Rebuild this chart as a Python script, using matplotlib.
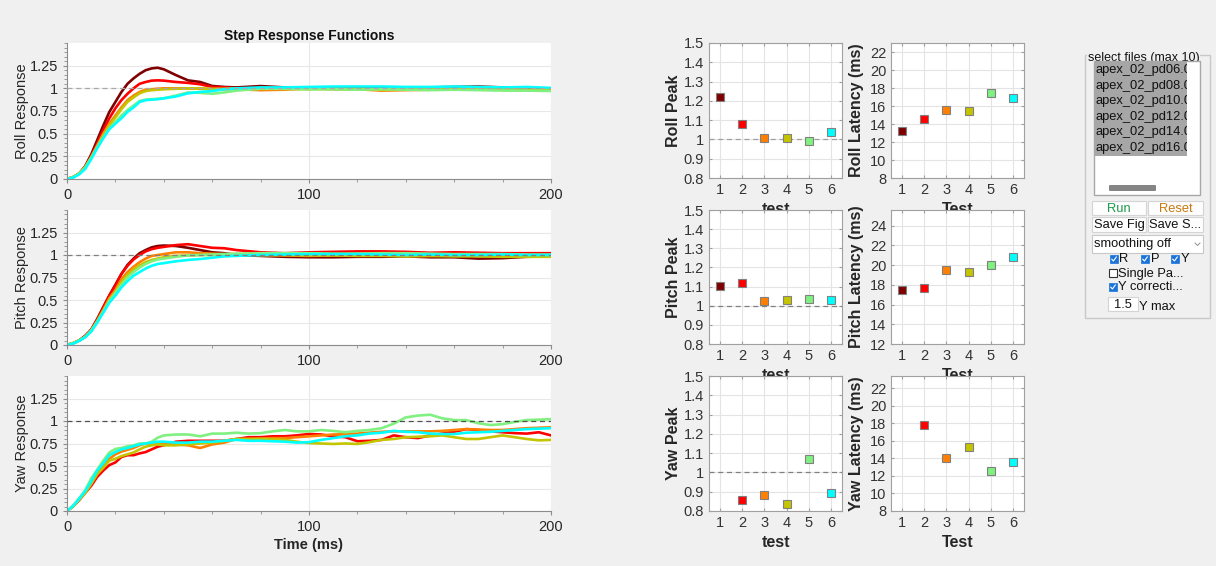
import numpy as np
import matplotlib
matplotlib.use("Agg")
import matplotlib.pyplot as plt
import matplotlib.patches as patches

plt.rcParams['font.family'] = ['Liberation Sans', 'DejaVu Sans']

W, H = 1216, 566

# ---- data ----
tests = [1, 2, 3, 4, 5, 6]
colors = ['#7f0000', '#ff0000', '#ff8000', '#c4c400', '#80f080', '#00ffff']

t_rp = [0, 2.5, 5, 7.5, 10, 12.5, 15, 17.5, 20, 22.5, 25, 27.5, 30, 32.5, 35, 37.5, 40,
        45, 50, 55, 60, 65, 70,
        80, 90, 100, 110, 120, 130, 140, 150, 160, 170, 180, 190, 200]
t_yaw = [0, 2.5, 5, 7.5, 10, 12.5, 15, 17.5, 20, 22.5, 25, 27.5, 30, 32.5, 35, 37.5, 40,
         45, 50, 55, 60, 65, 70, 75, 80, 85, 90, 95, 100, 105, 110, 115, 120,
         125, 130, 135, 140, 145, 150, 155, 160, 165, 170, 175, 180, 185, 190, 195, 200]

roll_resp = [
    [0, 0.02, 0.06, 0.14, 0.27, 0.43, 0.59, 0.74, 0.85, 0.96, 1.05, 1.11, 1.16, 1.20, 1.22, 1.227, 1.21,
     1.146, 1.088, 1.07, 1.026, 1.015, 1.01,
     1.025, 1.01, 1.0, 1.005, 1.01, 1.005, 1.0, 1.01, 1.015, 1.02, 1.01, 1.005, 0.99],
    [0, 0.02, 0.06, 0.13, 0.25, 0.39, 0.54, 0.67, 0.78, 0.87, 0.94, 1.0, 1.05, 1.07, 1.085, 1.088, 1.085,
     1.07, 1.06, 1.045, 1.015, 1.01, 1.0,
     1.0, 1.0, 0.995, 1.0, 1.005, 1.0, 0.995, 1.0, 1.0, 1.005, 1.0, 0.99, 0.985],
    [0, 0.02, 0.06, 0.13, 0.24, 0.37, 0.50, 0.61, 0.70, 0.79, 0.87, 0.92, 0.96, 0.985, 0.99, 0.996, 1.0,
     1.0, 1.0, 0.995, 0.99, 0.99, 0.99,
     0.98, 0.985, 1.0, 0.99, 0.99, 0.975, 0.98, 0.985, 0.99, 0.99, 0.985, 0.98, 0.975],
    [0, 0.02, 0.06, 0.13, 0.24, 0.36, 0.48, 0.59, 0.68, 0.77, 0.85, 0.90, 0.945, 0.97, 0.98, 0.985, 0.99,
     0.995, 1.0, 1.0, 0.995, 0.995, 1.0,
     1.0, 0.995, 0.99, 0.995, 0.99, 0.985, 0.99, 0.99, 0.985, 0.99, 0.99, 0.985, 0.98],
    [0, 0.02, 0.06, 0.12, 0.23, 0.35, 0.46, 0.56, 0.63, 0.70, 0.76, 0.81, 0.86, 0.875, 0.88, 0.885, 0.89,
     0.92, 0.955, 0.95, 0.94, 0.955, 0.975,
     0.995, 0.995, 0.99, 0.99, 0.985, 0.99, 0.985, 0.98, 0.985, 0.98, 0.975, 0.975, 0.97],
    [0, 0.015, 0.05, 0.11, 0.22, 0.34, 0.45, 0.55, 0.61, 0.67, 0.74, 0.79, 0.85, 0.87, 0.875, 0.88, 0.89,
     0.91, 0.945, 0.96, 0.97, 0.99, 1.0,
     1.01, 1.01, 1.015, 1.02, 1.02, 1.02, 1.015, 1.015, 1.02, 1.015, 1.01, 1.015, 1.005],
]

pitch_resp = [
    [0, 0.02, 0.05, 0.10, 0.17, 0.29, 0.42, 0.55, 0.67, 0.79, 0.89, 0.96, 1.02, 1.055, 1.085, 1.10, 1.105,
     1.10, 1.08, 1.055, 1.03, 1.02, 1.0,
     0.99, 0.98, 0.975, 0.975, 0.98, 0.98, 0.985, 0.975, 0.975, 0.96, 0.965, 0.98, 0.985],
    [0, 0.02, 0.05, 0.10, 0.17, 0.28, 0.42, 0.55, 0.66, 0.79, 0.88, 0.95, 1.0, 1.04, 1.065, 1.08, 1.09,
     1.11, 1.12, 1.10, 1.08, 1.075, 1.055,
     1.03, 1.02, 1.03, 1.035, 1.04, 1.04, 1.035, 1.025, 1.03, 1.025, 1.02, 1.02, 1.02],
    [0, 0.02, 0.05, 0.09, 0.16, 0.27, 0.39, 0.52, 0.61, 0.73, 0.81, 0.87, 0.92, 0.96, 0.99, 1.0, 1.01,
     1.03, 1.03, 1.02, 1.015, 1.01, 1.01,
     1.0, 0.995, 0.99, 0.995, 1.0, 0.995, 0.99, 0.99, 0.995, 0.99, 0.99, 0.985, 0.99],
    [0, 0.02, 0.05, 0.09, 0.16, 0.26, 0.38, 0.50, 0.59, 0.70, 0.78, 0.84, 0.885, 0.92, 0.945, 0.96, 0.975,
     0.99, 0.995, 1.0, 1.0, 1.005, 1.005,
     1.0, 1.0, 0.995, 0.995, 0.99, 0.99, 0.985, 0.99, 0.985, 0.985, 0.98, 0.98, 0.98],
    [0, 0.02, 0.05, 0.09, 0.16, 0.26, 0.37, 0.49, 0.58, 0.67, 0.75, 0.81, 0.86, 0.90, 0.93, 0.95, 0.96,
     0.98, 0.995, 1.0, 1.005, 1.01, 1.015,
     1.02, 1.02, 1.02, 1.015, 1.015, 1.02, 1.02, 1.015, 1.01, 1.01, 1.01, 1.005, 1.005],
    [0, 0.015, 0.045, 0.085, 0.15, 0.25, 0.36, 0.47, 0.55, 0.64, 0.71, 0.77, 0.81, 0.85, 0.88, 0.90, 0.91,
     0.93, 0.945, 0.955, 0.97, 0.985, 0.99,
     1.0, 1.005, 1.01, 1.01, 1.01, 1.005, 1.0, 1.005, 1.0, 1.0, 1.005, 1.0, 1.0],
]

# test 1 has no yaw data
yaw_resp = [
    None,
    [0, 0.05, 0.12, 0.20, 0.28, 0.38, 0.45, 0.51, 0.54, 0.60, 0.62, 0.62, 0.64, 0.655, 0.685, 0.715, 0.73,
     0.77, 0.78, 0.78, 0.78, 0.78, 0.80, 0.82, 0.82, 0.83, 0.83, 0.84, 0.856, 0.85, 0.83, 0.82, 0.775,
     0.78, 0.79, 0.84, 0.82, 0.81, 0.84, 0.86, 0.88, 0.91, 0.90, 0.885, 0.875, 0.865, 0.86, 0.875, 0.84],
    [0, 0.055, 0.13, 0.21, 0.32, 0.43, 0.51, 0.58, 0.63, 0.66, 0.68, 0.70, 0.73, 0.75, 0.745, 0.76, 0.75,
     0.74, 0.73, 0.70, 0.74, 0.76, 0.80, 0.80, 0.805, 0.81, 0.81, 0.82, 0.83, 0.84, 0.85, 0.855, 0.86,
     0.87, 0.88, 0.885, 0.885, 0.885, 0.885, 0.89, 0.90, 0.91, 0.905, 0.90, 0.90, 0.91, 0.92, 0.925, 0.93],
    [0, 0.05, 0.125, 0.20, 0.30, 0.41, 0.48, 0.56, 0.58, 0.61, 0.63, 0.65, 0.685, 0.715, 0.73, 0.74, 0.73,
     0.73, 0.74, 0.75, 0.76, 0.78, 0.80, 0.80, 0.80, 0.795, 0.79, 0.77, 0.755, 0.75, 0.745, 0.75, 0.745,
     0.765, 0.79, 0.80, 0.82, 0.825, 0.83, 0.84, 0.82, 0.80, 0.80, 0.82, 0.84, 0.82, 0.80, 0.785, 0.79],
    [0, 0.06, 0.14, 0.23, 0.36, 0.46, 0.56, 0.65, 0.69, 0.70, 0.72, 0.73, 0.75, 0.75, 0.77, 0.815, 0.84,
     0.85, 0.85, 0.83, 0.86, 0.86, 0.87, 0.86, 0.865, 0.885, 0.90, 0.885, 0.885, 0.90, 0.89, 0.875, 0.89,
     0.90, 0.92, 0.97, 1.04, 1.06, 1.07, 1.03, 1.01, 1.01, 0.975, 0.955, 0.965, 0.99, 1.01, 1.015, 1.02],
    [0, 0.055, 0.135, 0.22, 0.33, 0.45, 0.53, 0.62, 0.655, 0.685, 0.70, 0.72, 0.74, 0.75, 0.76, 0.77, 0.77,
     0.76, 0.76, 0.77, 0.77, 0.78, 0.79, 0.78, 0.78, 0.775, 0.77, 0.76, 0.765, 0.79, 0.81, 0.83, 0.84,
     0.86, 0.87, 0.89, 0.88, 0.875, 0.86, 0.855, 0.855, 0.87, 0.875, 0.88, 0.89, 0.90, 0.91, 0.915, 0.92],
]

roll_peak = [1.22, 1.08, 1.005, 1.01, 0.99, 1.04]
pitch_peak = [1.105, 1.12, 1.025, 1.03, 1.035, 1.03]
yaw_peak = [np.nan, 0.855, 0.885, 0.835, 1.07, 0.895]
roll_lat = [13.2, 14.6, 15.6, 15.5, 17.5, 16.9]
pitch_lat = [17.5, 17.7, 19.5, 19.3, 20.0, 20.8]
yaw_lat = [np.nan, 17.8, 14.1, 15.3, 12.6, 13.6]

file_names = ['apex_02_pd06.0', 'apex_02_pd08.0', 'apex_02_pd10.0',
              'apex_02_pd12.0', 'apex_02_pd14.0', 'apex_02_pd16.0']

TXT = '#262626'


def px_rect(l, t, r, b):
    return [l / W, 1 - b / H, (r - l) / W, (b - t) / H]


fig = plt.figure(figsize=(W / 100, H / 100), dpi=100, facecolor='#f0f0f0')

# ---- step response panels ----
rows = [(43, 179), (210, 345), (376, 511)]
step_labels = ['Roll Response', 'Pitch Response', 'Yaw Response']
dash_cols = ['#a8a8a8', '#808080', '#505050']
step_data = [(t_rp, roll_resp), (t_rp, pitch_resp), (t_yaw, yaw_resp)]

for i, (top, bot) in enumerate(rows):
    ax = fig.add_axes(px_rect(67, top, 551, bot))
    t, curves = step_data[i]
    for c, y in zip(colors, curves):
        if y is None:
            continue
        ax.plot(t, y, color=c, lw=1.9, solid_joinstyle='round')
    ax.axhline(1, ls='--', color=dash_cols[i], lw=0.9, dashes=(4, 3), zorder=3)
    ax.set_xlim(0, 200)
    ax.set_ylim(0, 1.5)
    ax.set_xticks([0, 100, 200])
    ax.set_xticks(np.arange(0, 201, 20), minor=True)
    ax.set_yticks(np.arange(0, 1.26, 0.25))
    ax.set_yticklabels(['0', '0.25', '0.5', '0.75', '1', '1.25'])
    ax.set_yticks(np.arange(0, 1.501, 0.05), minor=True)
    ax.grid(True, which='major', color='#e8e8e8', lw=0.8)
    ax.set_axisbelow(True)
    for s in ['top', 'right']:
        ax.spines[s].set_visible(False)
    for s in ['left', 'bottom']:
        ax.spines[s].set_color('#8c8c8c')
    ax.tick_params(which='major', direction='out', length=3, colors='#8c8c8c',
                   labelcolor=TXT, labelsize=10.5)
    ax.tick_params(which='minor', direction='out', length=2, colors='#8c8c8c')
    ax.set_ylabel(step_labels[i], fontsize=10.5, color=TXT, labelpad=0)
    if i == 0:
        ax.set_title('Step Response Functions', fontsize=10, fontweight='bold', color='#111111', pad=2)
    if i == 2:
        ax.set_xlabel('Time (ms)', fontsize=10.5, fontweight='bold', color=TXT, labelpad=3)

# ---- peak / latency scatter panels ----
peak_rows = [roll_peak, pitch_peak, yaw_peak]
lat_rows = [roll_lat, pitch_lat, yaw_lat]
sc_rows = [(43, 178), (210, 344), (376, 511)]
names = ['Roll', 'Pitch', 'Yaw']
lat_ylims = [(8, 23), (12, 25.6), (8, 23.4)]
lat_ticks = [np.arange(8, 23, 2), np.arange(12, 25, 2), np.arange(8, 23, 2)]


def style_scatter(ax, xlabel):
    ax.set_xlim(0.5, 6.5)
    ax.set_xticks(tests)
    ax.grid(True, color='#e4e4e4', lw=0.8)
    ax.set_axisbelow(True)
    for s in ax.spines.values():
        s.set_color('#a0a0a0')
    ax.tick_params(direction='in', top=True, right=True, length=2.5, colors='#a0a0a0',
                   labelcolor='#333333', labelsize=10.5)
    ax.set_xlabel(xlabel, fontsize=11.5, fontweight='bold', color=TXT, labelpad=4)


for i, (top, bot) in enumerate(sc_rows):
    axp = fig.add_axes(px_rect(709, top, 842, bot))
    axp.axhline(1, ls='--', color='#a0a0a0' if i == 0 else '#808080', lw=0.9, dashes=(4, 3))
    for x, v, c in zip(tests, peak_rows[i], colors):
        axp.plot(x, v, 's', color=c, ms=5.5, mec='#808080', mew=0.8, zorder=4)
    axp.set_ylim(0.8, 1.5)
    axp.set_yticks(np.arange(0.8, 1.51, 0.1))
    axp.set_yticklabels(['0.8', '0.9', '1', '1.1', '1.2', '1.3', '1.4', '1.5'])
    style_scatter(axp, 'test')
    axp.set_ylabel(names[i] + ' Peak', fontsize=11.5, fontweight='bold', color=TXT, labelpad=2)

    axl = fig.add_axes(px_rect(891, top, 1024, bot))
    for x, v, c in zip(tests, lat_rows[i], colors):
        axl.plot(x, v, 's', color=c, ms=5.5, mec='#808080', mew=0.8, zorder=4)
    axl.set_ylim(*lat_ylims[i])
    axl.set_yticks(lat_ticks[i])
    style_scatter(axl, 'Test')
    axl.set_ylabel(names[i] + ' Latency (ms)', fontsize=11.5, fontweight='bold', color=TXT, labelpad=4)

# ---- control panel (drawn in pixel coordinates) ----
ui = fig.add_axes([0, 0, 1, 1])
ui.set_xlim(0, W)
ui.set_ylim(H, 0)
ui.axis('off')
UI_FS = 9

ui.add_patch(patches.Rectangle((1085, 55), 125, 263, fill=False, ec='#c8c8c8', lw=1))
ui.text(1088, 58.5, 'select files (max 10)', fontsize=UI_FS, color='#111111', va='center',
        ha='left', bbox=dict(fc='#f0f0f0', ec='none', pad=0.5), zorder=2)

ui.add_patch(patches.Rectangle((1094, 61), 106, 134, fc='white', ec='#a8a8a8', lw=1, zorder=3))
ui.add_patch(patches.Rectangle((1095, 62), 92, 94, fc='#a6a6a6', ec='none', zorder=4))
clip = patches.Rectangle((1095, 62), 92, 94, transform=ui.transData)
for k, name in enumerate(file_names):
    tx = ui.text(1096, 70 + k * 15.6, name, fontsize=UI_FS + 0.3, color='#111111',
                 va='center', ha='left', zorder=5)
    tx.set_clip_on(True)
    tx.set_clip_path(clip)
ui.add_patch(patches.FancyBboxPatch((1109, 185), 47, 6, boxstyle='round,pad=0,rounding_size=1',
                                    fc='#858585', ec='none', zorder=5))


def button(x0, y0, x1, y1, label, color='#111111'):
    ui.add_patch(patches.Rectangle((x0, y0), x1 - x0, y1 - y0, fc='#fdfdfd', ec='#d4d4d4', lw=0.8))
    ui.text((x0 + x1) / 2, (y0 + y1) / 2 + 0.5, label, fontsize=UI_FS + 0.3, color=color,
            ha='center', va='center')


button(1092, 201, 1146, 215, 'Run', '#1a9a4a')
button(1148, 201, 1203, 215, 'Reset', '#c87a10')
button(1092, 217, 1146, 232, 'Save Fig')
button(1148, 217, 1203, 232, 'Save S...')

ui.add_patch(patches.Rectangle((1092, 235), 111, 18, fc='white', ec='#c8c8c8', lw=0.8))
ui.text(1094, 244.5, 'smoothing off', fontsize=UI_FS + 0.3, color='#111111', ha='left', va='center')
ui.plot([1195, 1197.5, 1200], [243, 245.5, 243], color='#909090', lw=0.7)


def checkbox(x, y, checked, label):
    if checked:
        ui.add_patch(patches.Rectangle((x, y - 4), 8, 8, fc='#1a73d9', ec='#1a73d9', lw=0.5))
        ui.plot([x + 1.8, x + 3.4, x + 6.3], [y + 0.2, y + 2, y - 2], color='white', lw=0.8)
    else:
        ui.add_patch(patches.Rectangle((x, y - 4), 8, 8, fc='white', ec='#333333', lw=0.8))
    ui.text(x + 9.5, y + 0.5, label, fontsize=UI_FS + 0.3, color='#111111', ha='left', va='center')


checkbox(1110, 259, True, 'R')
checkbox(1141, 259, True, 'P')
checkbox(1171, 259, True, 'Y')
checkbox(1109, 273, False, 'Single Pa...')
checkbox(1109, 287, True, 'Y correcti...')

ui.add_patch(patches.Rectangle((1108, 297), 30, 14, fc='white', ec='#d4d4d4', lw=0.8))
ui.text(1123, 304.5, '1.5', fontsize=UI_FS + 0.3, color='#111111', ha='center', va='center')
ui.text(1139, 307, 'Y max', fontsize=UI_FS + 0.3, color='#111111', ha='left', va='center')

fig.savefig('out.png', dpi=100, facecolor=fig.get_facecolor())
